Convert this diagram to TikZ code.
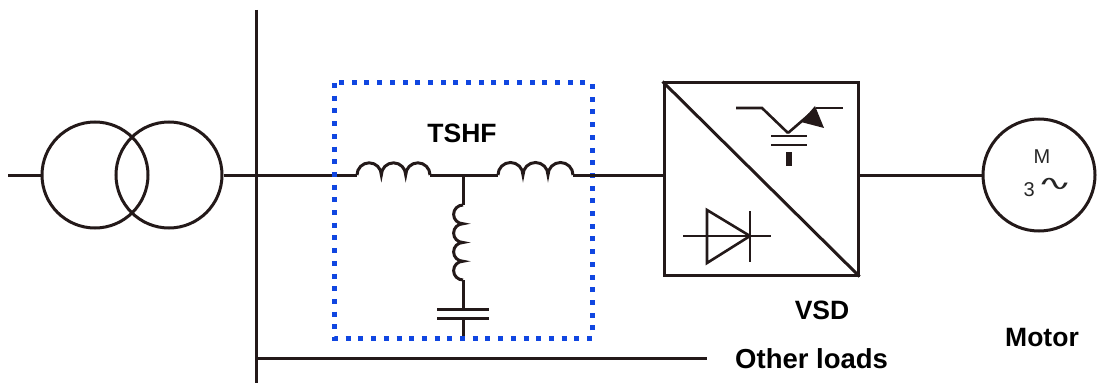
\documentclass[tikz,border=0pt]{standalone}
\usepackage{fontspec}
\setmainfont{Liberation Sans}
\newfontfamily\symfont{DejaVu Sans}
\usetikzlibrary{arrows.meta}
\definecolor{wire}{RGB}{35,25,25}
\definecolor{boxblue}{RGB}{16,70,225}
\tikzset{
  wireline/.style={draw=wire,line width=3pt},
  thinwire/.style={draw=wire,line width=2.6pt},
  lbl/.style={font=\fontsize{26.5}{30}\selectfont\bfseries,text=black,inner sep=0pt},
  motortext/.style={font=\fontsize{20}{22}\selectfont,text=black!85,inner sep=0pt},
  ring/.style={circle,draw=wire,line width=3pt,inner sep=0pt}
}
\begin{document}
\begin{tikzpicture}[x=1pt,y=-1pt]
\useasboundingbox (0,0) rectangle (1097,385);
% transformer
\node[ring,minimum size=106pt] (t1) at (95,175) {};
\node[ring,minimum size=106pt] (t2) at (169,175) {};
\coordinate (in) at (8,175);
\draw[wireline] (in) -- (t1.west);
% bus
\coordinate (bustop) at (256,10);
\coordinate (busbot) at (256,383);
\draw[wireline] (bustop) -- (busbot);
\coordinate (lj) at (256,358);
\coordinate (lend) at (707,358);
\draw[wireline] (lj) -- (lend);
\node[lbl,anchor=west,font=\fontsize{27.5}{30}\selectfont\bfseries] (ol) at (735,359) {Other loads};
% filter
\coordinate (l1a) at (357,175);
\coordinate (l1b) at (430,175);
\coordinate (jn) at (463,175);
\coordinate (l2a) at (498,175);
\coordinate (l2b) at (573,175);
\draw[wireline] (t2.east) -- (l1a);
\draw[wireline] (l1a) arc (180:0:12.17pt) arc (180:0:12.17pt) arc (180:0:12.17pt);
\draw[wireline] (l1b) -- (l2a);
\draw[wireline] (l2a) arc (180:0:12.5pt) arc (180:0:12.5pt) arc (180:0:12.5pt);
\coordinate (l3a) at (463,205);
\coordinate (l3b) at (463,280);
\draw[wireline] (jn) -- (l3a);
\draw[wireline] (l3a) arc (90:270:9.375pt) arc (90:270:9.375pt) arc (90:270:9.375pt) arc (90:270:9.375pt);
\coordinate (c1) at (463,309);
\coordinate (c2) at (463,318);
\coordinate (cend) at (463,338);
\draw[wireline] (l3b) -- (c1);
\draw[wireline] (437,309) -- (489,309);
\draw[wireline] (437,318) -- (489,318);
\draw[wireline] (c2) -- (cend);
\node[lbl] (tshf) at (462,133) {TSHF};
\draw[draw=boxblue,line width=5pt,dash pattern=on 5pt off 7.7pt] (334,83) rectangle (592,338);
% VSD
\node[draw=wire,line width=3pt,minimum width=194pt,minimum height=192pt,inner sep=0pt] (vsd) at (761,179) {};
\draw[wireline] (l2b) -- (vsd.west |- l2b);
\draw[wireline] (vsd.north west) -- (vsd.south east);
\node[lbl] (vsdl) at (822,310) {VSD};
% IGBT
\draw[thinwire] (736,108) -- (762,108) -- (788,133);
\draw[thinwire] (788,133) -- (810,114);
\fill[wire] (815,106) -- (801,122) -- (824,128) -- cycle;
\draw[thinwire] (816,108) -- (843,108);
\draw[thinwire] (771,136) -- (807,136);
\draw[thinwire] (771,145) -- (807,145);
\draw[draw=wire,line width=6pt] (789,152) -- (789,166);
% diode
\draw[thinwire] (683,236) -- (771,236);
\draw[thinwire] (707,210) -- (707,263) -- (750,236) -- cycle;
\draw[thinwire] (750,211) -- (750,262);
% motor
\node[ring,minimum size=112pt] (mot) at (1039,175) {};
\draw[wireline] (vsd.east |- mot.west) -- (mot.west);
\node[motortext] (mm) at (1042,157) {M};
\node[motortext,anchor=east] (m3) at (1035,190) {3};
\node[motortext,anchor=west,font=\fontsize{22}{22}\selectfont\symfont,text height=6pt,text depth=6pt] (mt) at (1037,190) {\scalebox{1.9}[0.95]{∿}};
\node[lbl] (motl) at (1042,338) {Motor};
\end{tikzpicture}
\end{document}
